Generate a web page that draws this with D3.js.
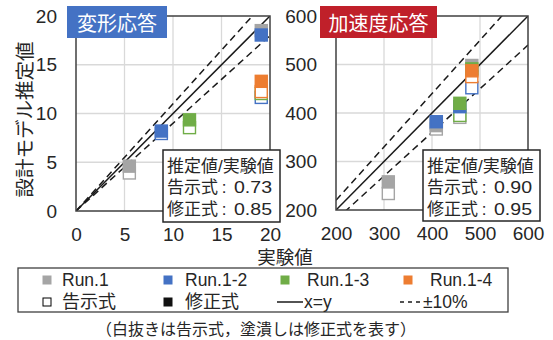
<!DOCTYPE html>
<html><head><meta charset="utf-8">
<script src="https://cdn.jsdelivr.net/npm/d3@7"></script>
<style>
body{margin:0;background:#fff}
svg text{font-family:"Liberation Sans",Arial,"Noto Sans CJK JP",sans-serif}
.jp{font-family:"Noto Sans CJK JP",sans-serif}
</style></head><body>
<svg id="chart" width="553" height="340"></svg>
<script>
// Run names and their colours
const runNames = ["Run.1", "Run.1-2", "Run.1-3", "Run.1-4"];
const runColors = ["#A5A5A5", "#4472C4", "#70AD47", "#ED7D31"];

// 変形応答: experimental value, 告示式 estimate, 修正式 estimate (null = none)
const defExp     = [[5.5, 19.1], [8.8, 19.1], [11.7, 19.1], [19.1]];
const defKokuji  = [[3.9, null], [7.95, 11.65], [8.55, 12.05], [12.25]];
const defShusei  = [[4.6, 18.5], [8.2, 18.05], [9.35, null], [13.3]];

// 加速度応答
const accExp     = [[309, 409, 458, 483], [409, 458, 483], [458, 483], [483]];
const accKokuji  = [[234, 367, 391, null], [380, null, 452], [395, null], [475]];
const accShusei  = [[258, 374, null, 498], [382, 413, null], [420, 491], [487]];

const defTicks = [0, 5, 10, 15, 20];
const accTicks = [200, 300, 400, 500, 600];

// 推定値/実験値 ratios shown in each panel
const ratioKokuji = ["0.73", "0.90"];
const ratioShusei = ["0.85", "0.95"];

const svg = d3.select("#chart");
const TXT = "#262626";

const panels = [
  { title: "変形応答", titleColor: "#4472C4", domain: [0, 20], ticks: defTicks,
    xr: [76, 270], yr: [211, 16], exp: defExp, kok: defKokuji, shu: defShusei,
    titleBox: [67, 6, 100, 32], note: [163, 150, 117, 72], ri: 0 },
  { title: "加速度応答", titleColor: "#C0202A", domain: [200, 600], ticks: accTicks,
    xr: [336, 528], yr: [210, 16], exp: accExp, kok: accKokuji, shu: accShusei,
    titleBox: [320, 6, 117, 32], note: [423, 150, 117, 71], ri: 1 }
];

panels.forEach((p, pi) => {
  const x = d3.scaleLinear().domain(p.domain).range(p.xr);
  const y = d3.scaleLinear().domain(p.domain).range(p.yr);
  const g = svg.append("g");

  // grid
  const inner = p.ticks.slice(1, -1);
  g.selectAll(".gx").data(inner).join("line")
    .attr("x1", d => x(d)).attr("x2", d => x(d))
    .attr("y1", p.yr[0]).attr("y2", p.yr[1])
    .attr("stroke", "#D9D9D9").attr("stroke-width", 1.3);
  g.selectAll(".gy").data(inner).join("line")
    .attr("y1", d => y(d)).attr("y2", d => y(d))
    .attr("x1", p.xr[0]).attr("x2", p.xr[1])
    .attr("stroke", "#D9D9D9").attr("stroke-width", 1.3);

  // reference lines x=y and ±10%
  const clipId = "clip" + pi;
  svg.append("clipPath").attr("id", clipId).append("rect")
    .attr("x", p.xr[0]).attr("y", p.yr[1])
    .attr("width", p.xr[1] - p.xr[0]).attr("height", p.yr[0] - p.yr[1]);
  const lg = g.append("g").attr("clip-path", `url(#${clipId})`);
  const [d0, d1] = p.domain;
  [[1, null], [1.1, "7,4.5"], [0.9, "7,4.5"]].forEach(([k, dash]) => {
    lg.append("line")
      .attr("x1", x(d0)).attr("y1", y(d0 * k))
      .attr("x2", x(d1)).attr("y2", y(d1 * k))
      .attr("stroke", "#1a1a1a").attr("stroke-width", 1.5)
      .attr("stroke-dasharray", dash);
  });

  // markers: open (告示式) first, then filled (修正式)
  const S = 12;
  const mg = g.append("g");
  p.exp.forEach((xs, r) => {
    xs.forEach((xv, i) => {
      const v = p.kok[r][i];
      if (v == null) return;
      mg.append("rect").attr("x", x(xv) - S / 2).attr("y", y(v) - S / 2)
        .attr("width", S).attr("height", S)
        .attr("fill", "#fff").attr("stroke", runColors[r]).attr("stroke-width", 1.4);
    });
  });
  p.exp.forEach((xs, r) => {
    xs.forEach((xv, i) => {
      const v = p.shu[r][i];
      if (v == null) return;
      mg.append("rect").attr("x", x(xv) - S / 2).attr("y", y(v) - S / 2)
        .attr("width", S).attr("height", S)
        .attr("fill", runColors[r]).attr("stroke", runColors[r]).attr("stroke-width", 1.4);
    });
  });

  // frame
  g.append("rect").attr("x", p.xr[0]).attr("y", p.yr[1])
    .attr("width", p.xr[1] - p.xr[0]).attr("height", p.yr[0] - p.yr[1])
    .attr("fill", "none").attr("stroke", "#404040").attr("stroke-width", 1.5);

  // axes
  const ax = g.append("g").attr("transform", `translate(0,${p.yr[0]})`)
    .call(d3.axisBottom(x).tickValues(p.ticks).tickSize(0).tickPadding(17));
  const ay = g.append("g").attr("transform", `translate(${p.xr[0]},0)`)
    .call(d3.axisLeft(y).tickValues(p.ticks).tickSize(0).tickPadding(19));
  [ax, ay].forEach(a => {
    a.select(".domain").remove();
    a.selectAll("text").attr("font-size", 19).attr("fill", TXT)
      .style("font-family", '"Liberation Sans",Arial,sans-serif');
  });

  // title box
  const [tx, ty, tw, th] = p.titleBox;
  g.append("rect").attr("x", tx).attr("y", ty).attr("width", tw).attr("height", th)
    .attr("fill", p.titleColor);
  g.append("text").attr("class", "jp").attr("x", tx + tw / 2).attr("y", ty + th / 2)
    .attr("text-anchor", "middle").attr("dominant-baseline", "central")
    .attr("font-size", 20).attr("fill", "#fff").text(p.title);

  // ratio note
  const [nx, ny, nw, nh] = p.note;
  g.append("rect").attr("x", nx).attr("y", ny).attr("width", nw).attr("height", nh)
    .attr("fill", "#fff").attr("stroke", "#262626").attr("stroke-width", 1.5);
  const ly = i => ny + 16 + i * 21.5;
  g.append("text").attr("x", nx + 4).attr("y", ly(0))
    .attr("dominant-baseline", "central").attr("font-size", 17).attr("fill", TXT)
    .text("推定値/実験値");
  [["告示式", ratioKokuji[p.ri]], ["修正式", ratioShusei[p.ri]]].forEach(([lab, val], i) => {
    const yy = ly(i + 1);
    g.append("text").attr("x", nx + 4).attr("y", yy)
      .attr("dominant-baseline", "central").attr("font-size", 17).attr("fill", TXT).text(lab);
    g.append("text").attr("x", nx + 61).attr("y", yy).attr("text-anchor", "middle")
      .attr("dominant-baseline", "central").attr("font-size", 17).attr("fill", TXT).text(":");
    g.append("text").attr("x", nx + 71).attr("y", yy)
      .attr("dominant-baseline", "central").attr("font-size", 17).attr("fill", TXT)
      .attr("textLength", 38).attr("lengthAdjust", "spacingAndGlyphs").text(val);
  });
});

// axis titles
svg.append("text").attr("class", "jp")
  .attr("transform", "translate(23,119.5) rotate(-90)")
  .attr("text-anchor", "middle").attr("dominant-baseline", "central")
  .attr("font-size", 19.5).attr("fill", TXT).text("設計モデル推定値");
svg.append("text")
  .attr("x", 285).attr("y", 257).attr("text-anchor", "middle").attr("dominant-baseline", "central")
  .attr("font-size", 18.5).attr("fill", TXT).text("実験値");

// legend
const leg = svg.append("g");
leg.append("rect").attr("x", 18).attr("y", 268).attr("width", 490).attr("height", 44)
  .attr("fill", "#fff").attr("stroke", "#404040").attr("stroke-width", 1.3);
const col = [[47, 62], [168, 185], [285, 307], [408, 430]];
const LM = 9;
runNames.forEach((n, i) => {
  leg.append("rect").attr("x", col[i][0] - LM / 2).attr("y", 280 - LM / 2)
    .attr("width", LM).attr("height", LM).attr("fill", runColors[i]);
  leg.append("text").attr("x", col[i][1]).attr("y", 280).attr("dominant-baseline", "central")
    .attr("font-size", 17.5).attr("fill", TXT).text(n);
});
const row2 = 302;
leg.append("rect").attr("x", 47 - LM / 2 + 0.5).attr("y", row2 - LM / 2 + 0.5)
  .attr("width", LM - 1).attr("height", LM - 1).attr("fill", "#fff").attr("stroke", "#000").attr("stroke-width", 1);
leg.append("text").attr("x", 62).attr("y", row2).attr("dominant-baseline", "central")
  .attr("font-size", 18).attr("fill", TXT).text("告示式");
leg.append("rect").attr("x", 168 - LM / 2).attr("y", row2 - LM / 2)
  .attr("width", LM).attr("height", LM).attr("fill", "#111");
leg.append("text").attr("x", 185).attr("y", row2).attr("dominant-baseline", "central")
  .attr("font-size", 18).attr("fill", TXT).text("修正式");
leg.append("line").attr("x1", 277).attr("x2", 303).attr("y1", row2).attr("y2", row2)
  .attr("stroke", "#1a1a1a").attr("stroke-width", 1.5);
leg.append("text").attr("x", 304).attr("y", row2).attr("dominant-baseline", "central")
  .attr("font-size", 17.5).attr("fill", TXT).text("x=y");
leg.append("line").attr("x1", 400).attr("x2", 422).attr("y1", row2).attr("y2", row2)
  .attr("stroke", "#1a1a1a").attr("stroke-width", 1.5).attr("stroke-dasharray", "4,4");
leg.append("text").attr("x", 423).attr("y", row2).attr("dominant-baseline", "central")
  .attr("font-size", 17.5).attr("fill", TXT).text("±10%");

// caption
svg.append("text").attr("x", 256).attr("y", 329)
  .attr("text-anchor", "middle").attr("dominant-baseline", "central")
  .attr("font-size", 16).attr("fill", TXT).text("（白抜きは告示式，塗潰しは修正式を表す）");
</script>
</body></html>
